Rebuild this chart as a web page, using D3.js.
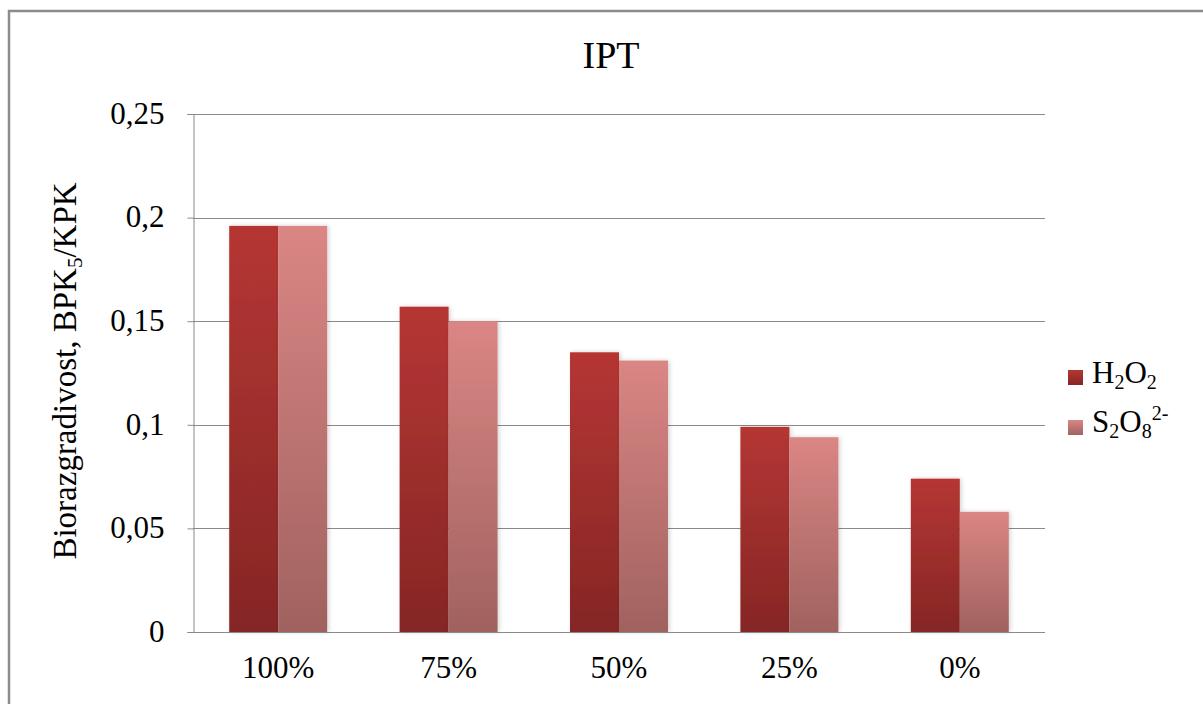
<!DOCTYPE html>
<html><head><meta charset="utf-8">
<script src="https://cdn.jsdelivr.net/npm/d3@7"></script>
<style>html,body{margin:0;padding:0;background:#fff;}svg{display:block;}
svg text{font-family:"Liberation Serif","Times New Roman","DejaVu Serif",serif !important;}</style>
</head><body>
<svg id="c" width="1203" height="704"></svg>
<script>
const categories = ["100%", "75%", "50%", "25%", "0%"];
const seriesNames = ["H2O2", "S2O8"];
const h2o2 = [0.196, 0.157, 0.135, 0.099, 0.074];
const s2o8 = [0.196, 0.150, 0.131, 0.094, 0.058];
const yTicks = [0, 0.05, 0.1, 0.15, 0.2, 0.25];
const yTickLabels = ["0", "0,05", "0,1", "0,15", "0,2", "0,25"];

const svg = d3.select("#c");
const M = {left:193, right:1045, top:114, bottom:632};
const FS = 31;

// frame
svg.append("path").attr("d","M9,704 V11 H1203").attr("fill","none").attr("stroke","#8c8c8c").attr("stroke-width",2.5);

const defs = svg.append("defs");
const grads = [["g0","#b53633","#852625"],["g1","#da8684","#a0625f"]];
grads.forEach(([id,a,b])=>{
  const g = defs.append("linearGradient").attr("id",id).attr("x1",0).attr("y1",0).attr("x2",0).attr("y2",1);
  g.append("stop").attr("offset","0%").attr("stop-color",a);
  g.append("stop").attr("offset","100%").attr("stop-color",b);
});
const f = defs.append("filter").attr("id","sh").attr("x","-20%").attr("y","-5%").attr("width","140%").attr("height","110%");
f.append("feDropShadow").attr("dx",1.5).attr("dy",0).attr("stdDeviation",2).attr("flood-color","#000").attr("flood-opacity",0.18);

const x = d3.scaleBand().domain(categories).range([M.left, M.right]).paddingInner(0.425).paddingOuter(0.2125);
const xs = d3.scaleBand().domain(seriesNames).range([0, x.bandwidth()]);
const y = d3.scaleLinear().domain([0,0.25]).range([M.bottom, M.top]);

// gridlines
svg.append("g").selectAll("line").data(yTicks.slice(1)).join("line")
  .attr("x1",M.left).attr("x2",M.right).attr("y1",d=>Math.round(y(d))+0.5).attr("y2",d=>Math.round(y(d))+0.5)
  .attr("stroke","#8a8a8a").attr("stroke-width",1);

// y axis
const yAxis = d3.axisLeft(y).tickValues(yTicks).tickSize(6).tickFormat((d,i)=>yTickLabels[i]);
const ga = svg.append("g").attr("transform",`translate(${M.left+0.5},0)`).call(yAxis);
ga.select(".domain").attr("stroke","#8a8a8a");
ga.selectAll(".tick line").attr("stroke","#8a8a8a");
ga.selectAll(".tick text").attr("font-size",FS).attr("fill","#000").attr("x",-29).attr("dy","0.3em");

// bars
const data = [h2o2, s2o8];
data.forEach((vals, si)=>{
  svg.append("g").selectAll("rect").data(vals).join("rect")
    .attr("x",(d,i)=>x(categories[i])+xs(seriesNames[si]))
    .attr("y",d=>y(d))
    .attr("width",xs.bandwidth())
    .attr("height",d=>y(0)-y(d))
    .attr("fill",`url(#g${si})`)
    .attr("filter","url(#sh)");
});

// x axis
const xAxis = d3.axisBottom(x).tickSize(0);
const gx = svg.append("g").attr("transform",`translate(0,${M.bottom+0.5})`).call(xAxis);
gx.select(".domain").attr("stroke","#8a8a8a").attr("d",`M${M.left},0H${M.right}`);
gx.selectAll(".tick text").attr("font-size",FS).attr("fill","#000").attr("dy",0).attr("y",45);

// title
svg.append("text").attr("x",611).attr("y",68).attr("text-anchor","middle")
  .attr("font-size",38).text("IPT");

// y label
const yl = svg.append("text").attr("transform","translate(76,371) rotate(-90)").attr("text-anchor","middle")
  .attr("font-size",33);
yl.append("tspan").text("Biorazgradivost, BPK");
yl.append("tspan").attr("font-size",21).attr("dy",6).text("5");
yl.append("tspan").attr("dy",-6).text("/KPK");

// legend
const leg = svg.append("g");
leg.append("rect").attr("x",1068).attr("y",370).attr("width",15).attr("height",15).attr("fill","url(#g0)");
leg.append("rect").attr("x",1068).attr("y",420).attr("width",15).attr("height",15).attr("fill","url(#g1)");
const t1 = leg.append("text").attr("x",1092).attr("y",383).attr("font-size",FS);
t1.append("tspan").text("H");
t1.append("tspan").attr("font-size",20).attr("dy",6).text("2");
t1.append("tspan").attr("dy",-6).text("O");
t1.append("tspan").attr("font-size",20).attr("dy",6).text("2");
const t2 = leg.append("text").attr("x",1092).attr("y",432).attr("font-size",FS);
t2.append("tspan").text("S");
t2.append("tspan").attr("font-size",20).attr("dy",6).text("2");
t2.append("tspan").attr("dy",-6).text("O");
t2.append("tspan").attr("font-size",20).attr("dy",6).text("8");
t2.append("tspan").attr("font-size",20).attr("dy",-18).text("2-");
</script>
</body></html>
